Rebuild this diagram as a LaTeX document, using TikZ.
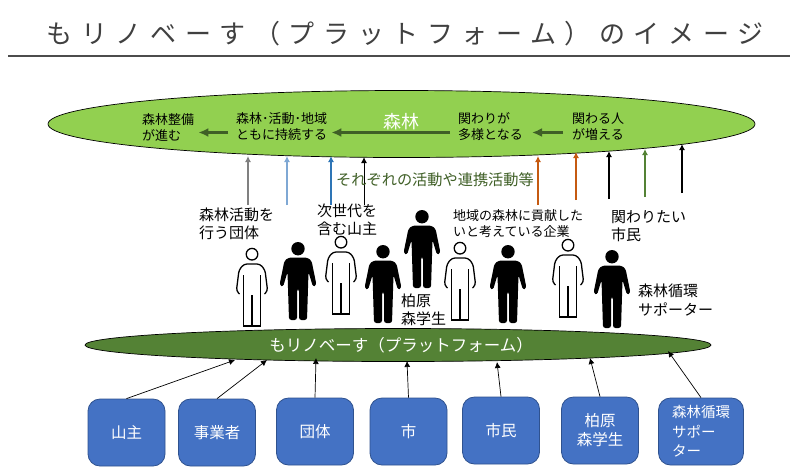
\documentclass[tikz,border=0pt]{standalone}
\usepackage{fontspec}
\setmainfont{Noto Sans CJK JP}
\newfontfamily\titlefont[LetterSpace=33]{Noto Sans CJK JP}
\usepackage{xcolor}
\usepackage{tikz}
\usetikzlibrary{shapes.geometric,arrows.meta}

\definecolor{leafgreen}{HTML}{92D050}
\definecolor{mossgreen}{HTML}{548235}
\definecolor{darkmoss}{HTML}{3F5F26}
\definecolor{boxblue}{HTML}{4472C4}
\definecolor{boxedge}{HTML}{2F528F}
\definecolor{softblue}{HTML}{7FA8D4}
\definecolor{deepblue}{HTML}{2E75B6}
\definecolor{rust}{HTML}{C55A11}

\tikzset{
    blob/.style={shape=ellipse,draw=black,line width=0.7pt,inner sep=0pt},
    member/.style={shape=rectangle,rounded corners=12pt,draw=boxedge,fill=boxblue,line width=0.8pt,
        minimum width=77pt,minimum height=67pt,text=white,align=center,inner sep=0pt,
        font=\fontsize{15.5}{19}\selectfont},
    note/.style={anchor=west,align=left,inner sep=0pt,font=\fontsize{15}{18}\selectfont},
    small/.style={anchor=west,align=left,inner sep=0pt,font=\fontsize{13}{16}\selectfont},
    step arrow/.style={-{Latex[length=10pt,width=9pt]},draw=darkmoss,line width=2.4pt},
    join arrow/.style={-{Latex[length=6pt,width=6pt]},draw=black,line width=0.7pt},
    pics/darkman/.style={code={
        \fill[black] (0,6.7) circle (6.7pt);
        \fill[black,rounded corners=2.5pt] (-9,15.5) -- (9,15.5) -- (13.5,18.5) -- (18.5,43) -- (15,45) -- (10.5,30)
            -- (10,46) -- (9,78) -- (1,78) -- (1,47) -- (-1,47) -- (-1,78) -- (-9,78) -- (-10,46)
            -- (-10.5,30) -- (-15,45) -- (-18.5,43) -- (-13.5,18.5) -- cycle;
    }},
    pics/paleman/.style={code={
        \draw[black,line width=1.3pt] (0,6.2) circle (5.8pt);
        \draw[black,line width=1.3pt,rounded corners=3pt] (-12.5,46) -- (-15.6,43) -- (-13,22) -- (-8,16) -- (8,16) -- (13,22) -- (15.6,43) -- (12.5,46);
        \draw[black,line width=1.3pt] (-8.3,27) -- (-8.3,78) -- (8.3,78) -- (8.3,27);
        \draw[black,line width=1.3pt] (0,47) -- (0,78);
    }},
}

\begin{document}
\begin{tikzpicture}[x=1pt,y=-1pt]
    \path[fill=white,use as bounding box] (0,0) rectangle (800,475);

    % title
    \node[inner sep=0pt,text=black!75,font=\titlefont\fontsize{26}{30}\selectfont] (title) at (405,34) {もリノベーす（プラットフォーム）のイメージ};
    \coordinate (rule a) at (8,56);
    \coordinate (rule b) at (790,56);
    \draw[line width=1.8pt,draw=black!70] (rule a) -- (rule b);

    % the two big ellipses
    \node[blob,fill=leafgreen,minimum width=707pt,minimum height=67pt] (forest) at (401.5,124) {};
    \node[blob,fill=mossgreen,minimum width=626pt,minimum height=33pt] (platform) at (398,345) {};
    \node[inner sep=0pt,text=white,font=\fontsize{16.5}{20}\selectfont] (platform label) at (401,345.5) {もリノベーす（プラットフォーム）};
    \node[inner sep=0pt,text=white,font=\fontsize{18}{20}\selectfont] (forest label) at (401,122) {森林};

    % steps inside the top ellipse
    \node[small] (s1) at (142,127) {森林整備\\が進む};
    \node[small] (s2) at (236,127) {森林･活動･地域\\ともに持続する};
    \node[small] (s3) at (458,127) {関わりが\\多様となる};
    \node[small] (s4) at (572,127) {関わる人\\が増える};

    \draw[step arrow,shorten >=4pt,shorten <=8pt] ([yshift=-5.5pt]s2.west) -- ([yshift=-5.5pt]s1.east);
    \draw[step arrow,shorten >=4pt,shorten <=8pt] ([yshift=-5.5pt]s3.west) -- ([yshift=-5.5pt]s2.east);
    \draw[step arrow,shorten >=9pt,shorten <=9pt] ([yshift=-5.5pt]s4.west) -- ([yshift=-5.5pt]s3.east);

    % arrows up to the top ellipse
    \foreach \i/\x/\ya/\yb/\col/\wid in {1/248/205/156/black!50/1.5,2/287/205/156/softblue/1.2,3/331/205/156/deepblue/2.2,
        4/364/205/157/black/1,5/538/205/156/rust/2,6/576/200/152/rust/2,7/609/199/151/black/2,8/645/197/149/mossgreen/1.2,9/682/193/144/black/2}{
        \coordinate (up\i a) at (\x,\ya);
        \coordinate (up\i b) at (\x,\yb);
        \draw[-{Latex[length=6pt,width=6pt]},draw=\col,line width=\wid pt] (up\i a) -- (up\i b);
    }

    \node[anchor=west,inner sep=0pt,text=darkmoss,font=\fontsize{15.2}{18}\selectfont] (work) at (336,180) {それぞれの活動や連携活動等};

    % people
    \foreach \x/\y in {298/242,383/245,422/210,508/245,612/250}{
        \pic at (\x,\y) {darkman};
    }
    \foreach \x/\y in {252/248,341/236,460/242,568/239}{
        \pic at (\x,\y) {paleman};
    }

    % labels next to the people
    \node[note] (groups) at (199,223.5) {森林活動を\\行う団体};
    \node[note] (owners) at (317,219.5) {次世代を\\含む山主};
    \node[small] (firms) at (453,224) {地域の森林に貢献した\\いと考えている企業};
    \node[note] (citizens) at (611,226) {関わりたい\\市民};
    \node[note] (students) at (401,309.5) {柏原\\森学生};
    \node[note,font=\fontsize{15}{19}\selectfont] (supporters) at (638,300.5) {森林循環\\サポーター};

    % member boxes
    \node[member] (b1) at (126.5,432.5) {山主};
    \node[member] (b2) at (217,432.5) {事業者};
    \node[member] (b3) at (315,431.5) {団体};
    \node[member] (b4) at (408.5,431.5) {市};
    \node[member] (b5) at (501,430.5) {市民};
    \node[member] (b6) at (600,430.5) {柏原\\森学生};
    \node[member,minimum width=85pt,anchor=center,align=left,font=\fontsize{14.5}{19.5}\selectfont] (b7) at (701,431.5) {森林循環\\サポー\\ター};

    \coordinate (in1) at (235,360);
    \coordinate (in2) at (267,360);
    \coordinate (in3) at (316,358);
    \coordinate (in4) at (407,361);
    \coordinate (in5) at (497,362);
    \coordinate (in6) at (590,358);
    \coordinate (in7) at (668,351);
    \foreach \i in {1,...,7}{
        \draw[join arrow] (b\i.north) -- (in\i);
    }
\end{tikzpicture}
\end{document}
